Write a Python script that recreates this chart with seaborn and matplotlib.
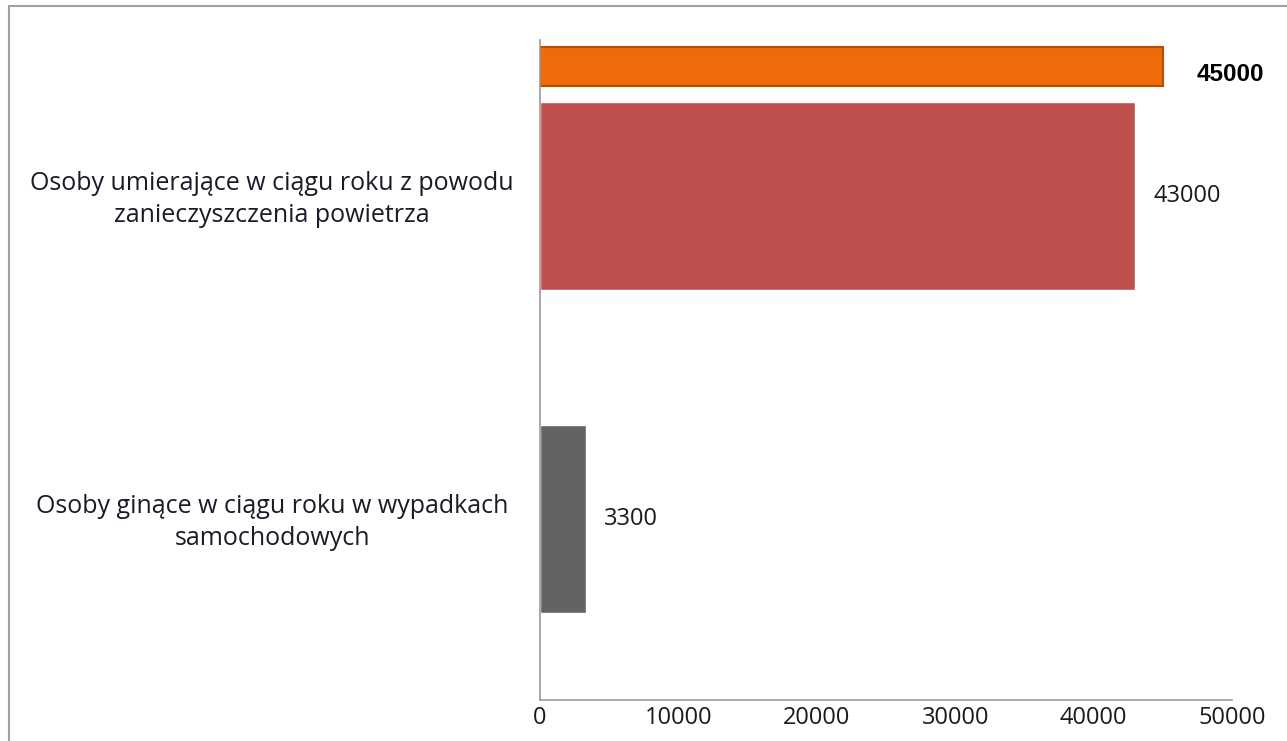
import matplotlib
matplotlib.use("Agg")
import matplotlib.pyplot as plt
import matplotlib.patches as mpatches
import matplotlib.transforms as mtransforms
import pandas as pd
import seaborn as sns

# data
categories = ["Osoby umierające w ciągu roku z powodu\nzanieczyszczenia powietrza",
              "Osoby ginące w ciągu roku w wypadkach\nsamochodowych"]
values = [43000, 3300]
bar_colors = ["#C0504D", "#636363"]
extra_value = 45000
xticks = [0, 10000, 20000, 30000, 40000, 50000]

sns.set_theme(style="white")
plt.rcParams["font.family"] = ["Open Sans", "DejaVu Sans"]

fig = plt.figure(figsize=(12.87, 7.41), dpi=100)
ax = fig.add_axes([540 / 1287, 1 - 700 / 741, 692 / 1287, 660 / 741])

df = pd.DataFrame({"cat": categories, "val": values})
sns.barplot(data=df, x="val", y="cat", hue="cat", palette=bar_colors,
            orient="h", width=0.58, legend=False, ax=ax, saturation=1)

# extra orange bar above the first category
ax.barh(-0.40, extra_value, height=0.12, color="#EE6A0A",
        edgecolor="#B84C00", linewidth=1.5)
ax.annotate(str(extra_value), (extra_value, -0.375), xytext=(24, 0),
            textcoords="offset points", va="center", ha="left",
            fontsize=17.5, fontweight="bold", family=["Liberation Sans", "DejaVu Sans"],
            color="black")

for i, v in enumerate(values):
    ax.annotate(str(v), (v, i), xytext=(13, 0), textcoords="offset points",
                va="center", ha="left", fontsize=17, color="#1a1a1a")

ax.set_xlim(0, 50000)
ax.set_ylim(1.56, -0.483)
ax.set_xticks(xticks)
ax.set_xticklabels([str(t) for t in xticks], fontsize=17, color="#1a1a1a")
ax.tick_params(axis="x", length=0, pad=4)
ax.set_yticks([])
ax.set_xlabel("")
ax.set_ylabel("")

trans = mtransforms.blended_transform_factory(fig.transFigure, ax.transData)
for i, c in enumerate(categories):
    ax.text(272 / 1287, i + 0.01, c, transform=trans, ha="center", va="center",
            multialignment="center", fontsize=18, color="#1a1a2a",
            linespacing=1.35)

for s in ["top", "right"]:
    ax.spines[s].set_visible(False)
for s in ["left", "bottom"]:
    ax.spines[s].set_color("#9a9a9a")
    ax.spines[s].set_linewidth(1.2)

# outer chart border (clipped on right / bottom)
fig.patches.append(mpatches.Rectangle((9 / 1287, -0.1), 1.2, 1 - 6 / 741 + 0.1,
                                      transform=fig.transFigure, fill=False,
                                      edgecolor="#a0a0a0", linewidth=1.5))

fig.savefig("out.png", dpi=100)
